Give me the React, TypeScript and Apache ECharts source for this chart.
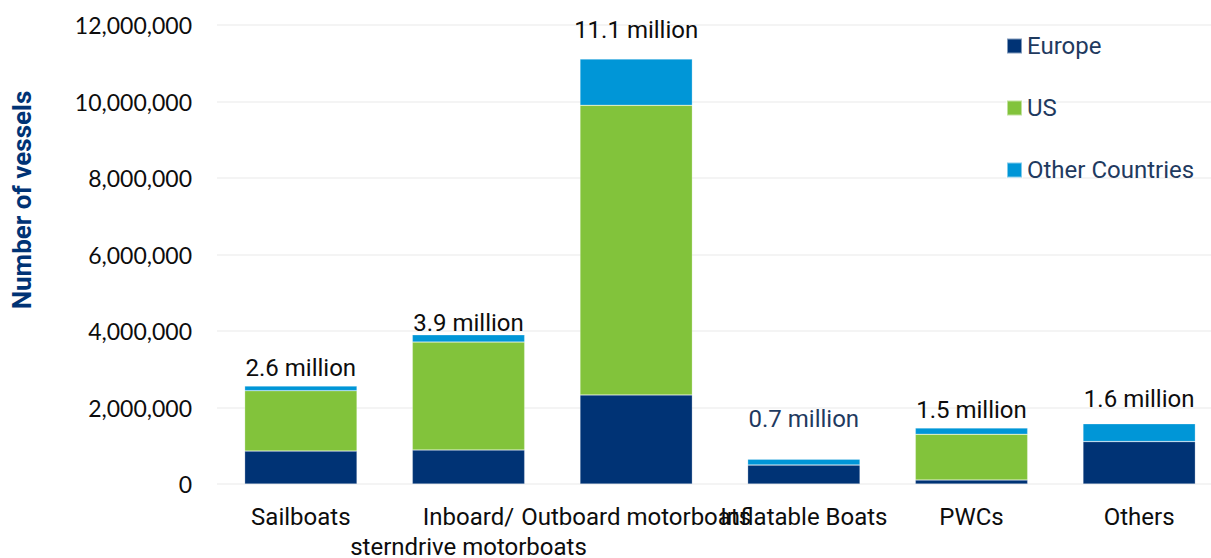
import React, { useEffect, useRef } from "react";
import * as echarts from "echarts";

const categories = [
  "Sailboats",
  "Inboard/\nsterndrive motorboats",
  "Outboard motorboats",
  "Inflatable Boats",
  "PWCs",
  "Others",
];
const europe = [860000, 890000, 2330000, 500000, 105000, 1110000];
const us = [1580000, 2820000, 7570000, 0, 1195000, 0];
const otherCountries = [120000, 190000, 1210000, 150000, 165000, 465000];
const totalLabels = ["2.6 million", "3.9 million", "11.1 million", "0.7 million", "1.5 million", "1.6 million"];
const yMin = 0;
const yMax = 12000000;
const yStep = 2000000;

// label styling (not data)
const totalLabelGap = [6, 0, 17, 28, 6, 13];
const totalLabelColor = ["#0d0d0d", "#0d0d0d", "#0d0d0d", "#1f3a5f", "#0d0d0d", "#0d0d0d"];

const COLORS = { europe: "#003375", us: "#82c33b", other: "#0096d7" };

export default function App() {
  const ref = useRef<HTMLDivElement>(null);
  useEffect(() => {
    if (!ref.current) return;
    const chart = echarts.init(ref.current, null, { renderer: "svg" });
    const barBase = {
      type: "bar" as const,
      stack: "total",
      barCategoryGap: "33%",
      itemStyle: { borderColor: "rgba(255,255,255,0.5)", borderWidth: 0.5 },
    };
    chart.setOption({
      animation: false,
      backgroundColor: "#ffffff",
      grid: {
        left: 217,
        right: -12,
        top: 25,
        bottom: 74,
        containLabel: false,
        outerBoundsMode: "none",
      },
      legend: {
        orient: "vertical",
        left: 1006,
        top: 34,
        padding: 0,
        itemWidth: 15,
        itemHeight: 15,
        itemGap: 38,
        icon: "rect",
        textStyle: { fontFamily: "Roboto", fontSize: 24, color: "#1f3a5f", lineHeight: 23 },
        data: ["Europe", "US", "Other Countries"],
      },
      xAxis: {
        type: "category",
        data: categories,
        axisLine: { show: false },
        axisTick: { show: false },
        axisLabel: {
          interval: 0,
          fontFamily: "Roboto",
          fontSize: 24,
          color: "#0d0d0d",
          lineHeight: 30,
          margin: 18,
        },
      },
      yAxis: {
        type: "value",
        min: yMin,
        max: yMax,
        interval: yStep,
        axisLine: { show: false },
        axisTick: { show: false },
        splitLine: { lineStyle: { color: "#f0f0f0", width: 1.5 } },
        axisLabel: {
          fontFamily: "Lato",
          fontSize: 23,
          color: "#0d0d0d",
          margin: 25,
          formatter: (v: number) => v.toLocaleString("en-US"),
        },
      },
      graphic: [
        {
          type: "text",
          x: 22,
          y: 200,
          rotation: Math.PI / 2,
          style: {
            text: "Number of vessels",
            fontFamily: "Roboto",
            fontWeight: "bold",
            fontSize: 26,
            fill: "#003375",
            align: "center",
            verticalAlign: "middle",
          },
        },
      ],
      series: [
        { ...barBase, name: "Europe", data: europe, itemStyle: { ...barBase.itemStyle, color: COLORS.europe } },
        { ...barBase, name: "US", data: us, itemStyle: { ...barBase.itemStyle, color: COLORS.us } },
        {
          ...barBase,
          name: "Other Countries",
          itemStyle: { ...barBase.itemStyle, color: COLORS.other },
          data: otherCountries.map((v, i) => ({
            value: v,
            label: {
              show: true,
              position: "top",
              distance: totalLabelGap[i],
              formatter: totalLabels[i],
              fontFamily: "Roboto",
              fontSize: 24,
              lineHeight: 24,
              color: totalLabelColor[i],
            },
          })),
        },
      ],
    });
    return () => chart.dispose();
  }, []);
  return (
    <div
      ref={ref}
      style={{ position: "fixed", left: 0, top: 0, width: 1211, height: 558, background: "#fff" }}
    />
  );
}
